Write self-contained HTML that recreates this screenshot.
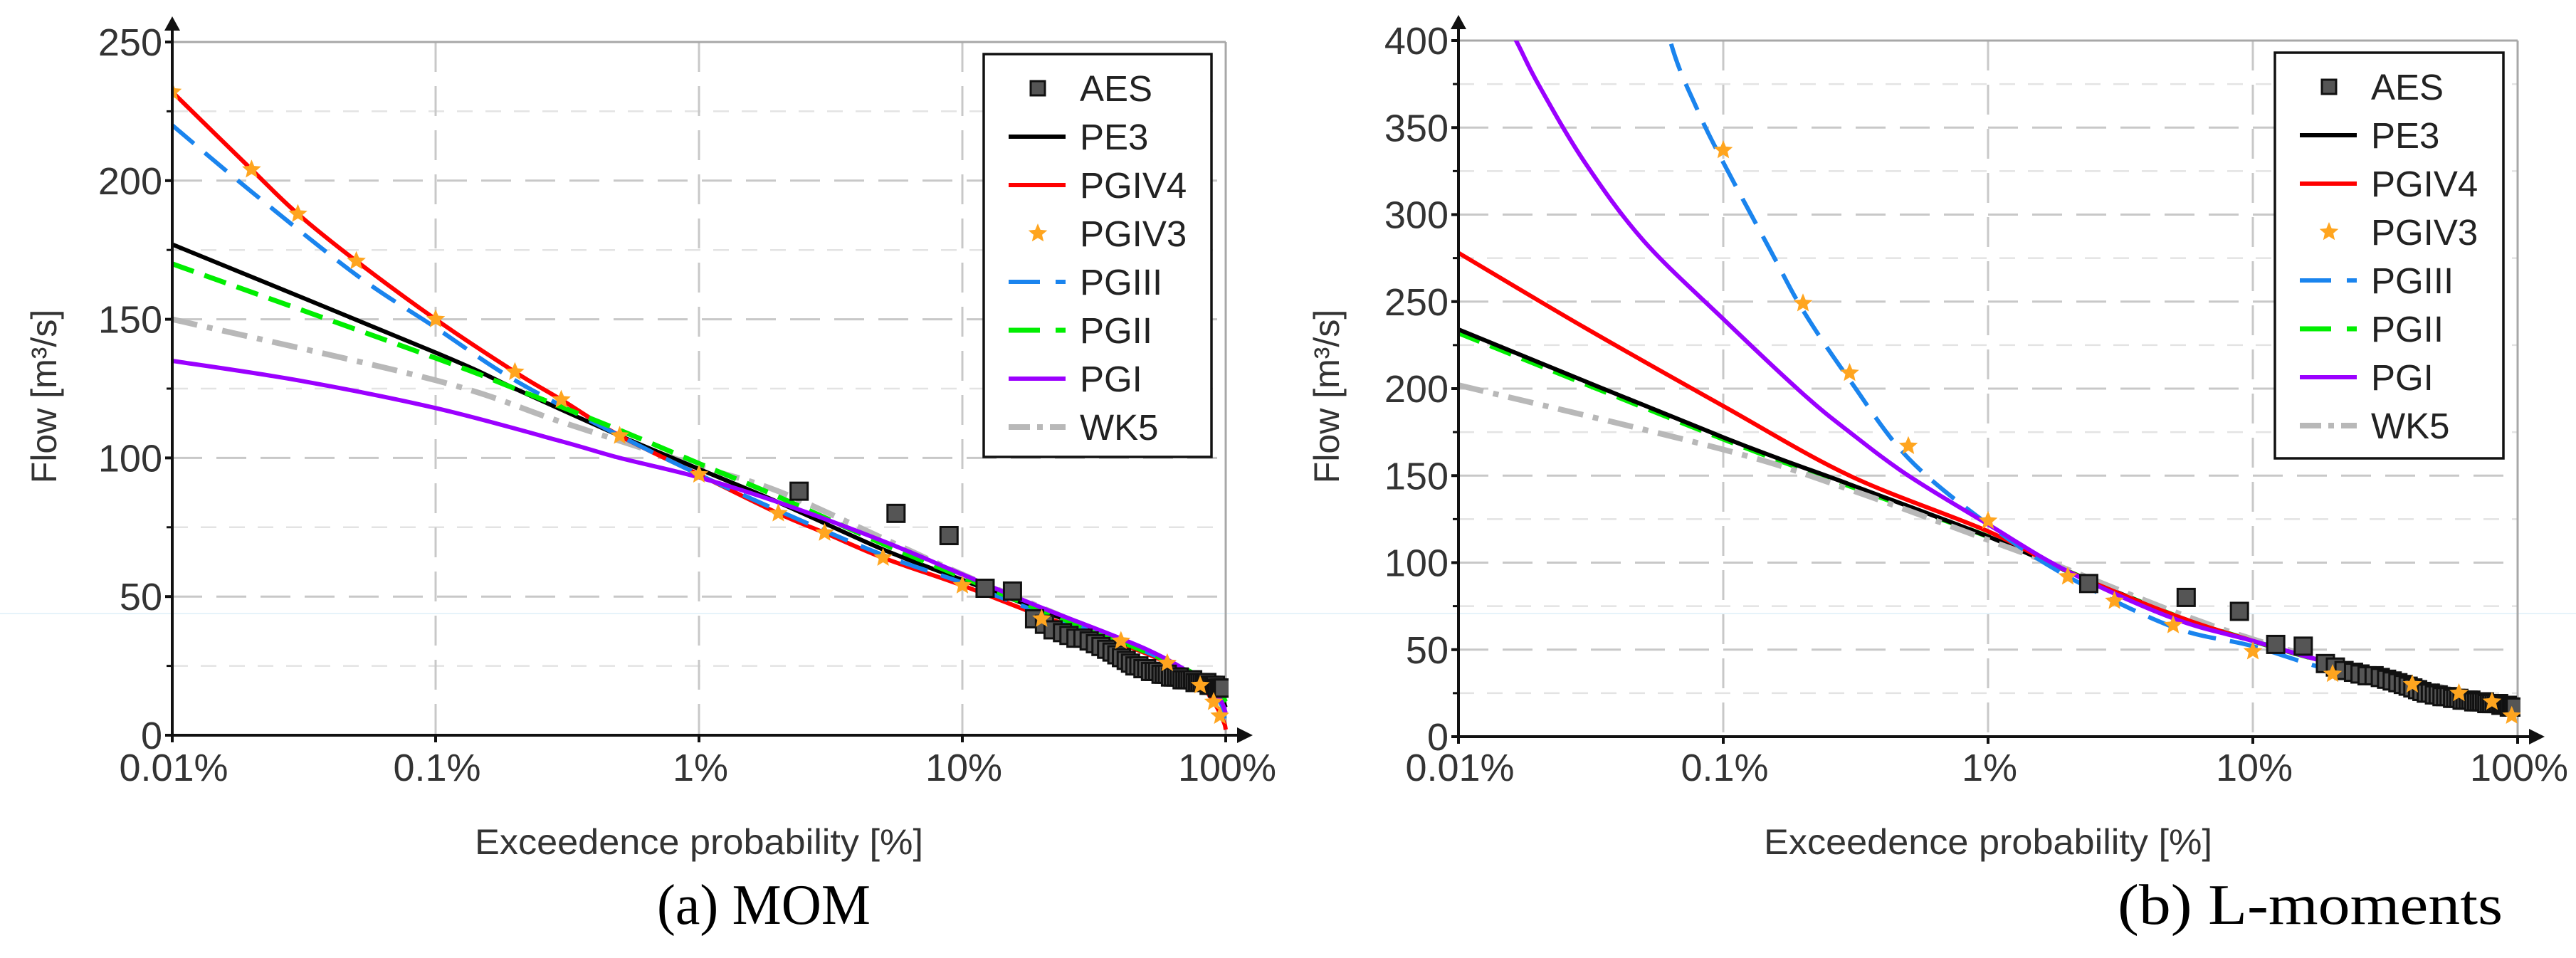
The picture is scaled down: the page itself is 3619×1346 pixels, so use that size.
<!DOCTYPE html>
<html><head><meta charset="utf-8"><title>Flood frequency curves</title>
<style>html,body{margin:0;padding:0;background:#fff;}svg{display:block;}</style></head>
<body>
<svg id="fig" xmlns="http://www.w3.org/2000/svg" width="3619" height="1346" viewBox="0 0 3619 1346" font-family="Liberation Sans, sans-serif"></svg>
<script>
// ---------- shared data ----------
const aesP = [2.4,5.6,8.9,12.2,15.5,18.8,20.5,22.1,24,25.4,27,28.7,30.3,32,33.6,35.3,37,38.6,40.2,41.9,43.5,45.2,46.8,48.5,50.1,51.8,53.5,55.1,56.8,58.4,60,61.7,63.3,65,66.6,68.3,70,71.6,73.2,74.9,76.5,78.2,79.8,81.5,83.2,84.8,86.5,88.1,89.8,91.4,93,94.7,96.3,98];
const aesQ = [88,80,72,53,52,42,40,38,37,36,35,35,34,33,32,31,30,29,28,27,26,25,25,24,24,23,23,23,22,22,22,21,21,21,21,20,20,20,20,20,19,19,19,19,19,19,18,18,18,18,17,17,17,17];
const xTickVals = [0.01,0.1,1,10,100];
const xTickLabels = ["0.01%","0.1%","1%","10%","100%"];
const momYTicks = [0,50,100,150,200,250];
const lmYTicks = [0,50,100,150,200,250,300,350,400];

// ---------- (a) MOM series ----------
const momPE3P = [0.01,0.1,0.2,0.5,1,2,5,10,20,50,80,95,100];
const momPE3Q = [177,138,125,108,96,84,67,56,45,30,20,14,10];
const momPGIV4P = [0.01,0.02,0.03,0.05,0.1,0.2,0.3,0.5,1,2,3,5,10,20,40,60,80,90,95,99,100];
const momPGIV4Q = [232,204,188,171,150,131,121,108,94,80,73,64,54,43,33,26,18,12,8,4,2];
const momPGIV3P = [0.01,0.02,0.03,0.05,0.1,0.2,0.3,0.5,1,2,3,5,10,20,40,60,80,90,95];
const momPGIV3Q = [232,204,188,171,150,131,121,108,94,80,73,64,54,42,34,26,18,12,7];
const momPGIIIP = [0.01,0.02,0.05,0.1,0.2,0.5,1,2,5,10,20,50,80,95,99,100];
const momPGIIIQ = [220,196,166,147,128,108,94,81,65,55,44,30,20,12,6,3];
const momPGIIP = [0.01,0.1,0.2,0.5,1,2,5,10,20,50,80,95,100];
const momPGIIQ = [170,136,125,110,98,86,69,57,45,30,21,15,12];
const momPGIP = [0.01,0.03,0.1,0.3,0.5,1,2,5,10,20,50,80,95,100];
const momPGIQ = [135,128,118,106,100,93,84,70,58,46,31,20,13,8];
const momWK5P = [0.01,0.1,0.3,1,2,5,10,20,50,80,95,100];
const momWK5Q = [150,128,113,97,88,71,58,46,30,20,15,13];

// ---------- (b) L-moments series ----------
const lmPE3P = [0.01,0.1,0.3,1,2,5,10,20,50,80,100];
const lmPE3Q = [234,172,145,115,95,70,55,42,28,20,15];
const lmPGIV4P = [0.01,0.03,0.1,0.3,1,2,5,10,20,50,90,100];
const lmPGIV4Q = [278,235,190,150,118,95,70,55,42,28,18,14];
const lmPGIV3P = [0.1,0.2,0.3,0.5,1,2,3,5,10,20,40,60,80,95];
const lmPGIV3Q = [337,249,209,167,124,92,78,64,49,36,30,25,20,12];
const lmPGIIIP = [0.05,0.063,0.08,0.1,0.15,0.2,0.3,0.5,1,2,5,10,20,50,90,100];
const lmPGIIIQ = [470,400,360,330,280,245,205,160,122,92,63,52,38,26,16,12];
const lmPGIIP = [0.01,0.1,0.3,1,2,5,10,20,50,80,100];
const lmPGIIQ = [232,171,144,115,95,70,55,42,28,20,15];
const lmPGIP = [0.012,0.0165,0.02,0.03,0.05,0.1,0.2,0.3,0.5,1,2,5,10,20,50,100];
const lmPGIQ = [440,400,375,330,285,240,197,175,150,122,95,68,55,42,28,14];
const lmWK5P = [0.01,0.1,0.3,1,2,5,10,20,50,100];
const lmWK5Q = [202,165,142,113,96,72,56,43,29,16];

const NS = "http://www.w3.org/2000/svg";
const svg = document.getElementById('fig');
function mk(tag, attrs, parent){
  const e = document.createElementNS(NS, tag);
  for (const k in attrs) e.setAttribute(k, attrs[k]);
  (parent||svg).appendChild(e);
  return e;
}
function starPts(cx, cy, R){
  const r = R*0.45; let s = "";
  for (let i=0;i<10;i++){
    const a = -Math.PI/2 + i*Math.PI/5, rr = i%2?r:R;
    s += (cx+rr*Math.cos(a)).toFixed(1)+","+(cy+rr*Math.sin(a)).toFixed(1)+" ";
  }
  return s;
}
// Catmull-Rom smoothed path through screen points
function smoothPath(pts){
  let d = 'M'+pts[0][0].toFixed(1)+','+pts[0][1].toFixed(1);
  for (let i=0;i<pts.length-1;i++){
    const p0 = pts[Math.max(0,i-1)], p1 = pts[i], p2 = pts[i+1], p3 = pts[Math.min(pts.length-1,i+2)];
    const c1x = p1[0]+(p2[0]-p0[0])/6, c1y = p1[1]+(p2[1]-p0[1])/6;
    const c2x = p2[0]-(p3[0]-p1[0])/6, c2y = p2[1]-(p3[1]-p1[1])/6;
    d += ' C'+c1x.toFixed(1)+','+c1y.toFixed(1)+' '+c2x.toFixed(1)+','+c2y.toFixed(1)+' '+p2[0].toFixed(1)+','+p2[1].toFixed(1);
  }
  return d;
}

const art = mk('line',{x1:0,y1:862,x2:3619,y2:862,stroke:'#e6f3fa','stroke-width':2});



function drawChart(cfg){
  const g = mk('g',{});
  
  
  const x0=cfg.x0, dec=cfg.dec, y0=cfg.y0, yTop=cfg.yTop, yMax=cfg.yMax;
  const x1 = x0+4*dec;
  const xs = p => x0 + (Math.log10(p)+2)*dec;
  const ys = q => y0 - (q/yMax)*(y0-yTop);
  const step = cfg.yTicks[1]-cfg.yTicks[0];

  const grid = mk('g',{},g);
  
  
  cfg.yTicks.forEach((v,i)=>{
    if (i>0){
      const mv = v-step/2;
      const l = mk('line',{x1:x0,x2:x1,y1:ys(mv),y2:ys(mv),stroke:'#e3e3e3','stroke-width':2.5,'stroke-dasharray':'22,18'},grid);
      
      
    }
    if (i>0 && i<cfg.yTicks.length-1){
      const l = mk('line',{x1:x0,x2:x1,y1:ys(v),y2:ys(v),stroke:'#c8c8c8','stroke-width':3,'stroke-dasharray':'42,20'},grid);
      
      
    }
  });
  xTickVals.slice(1,4).forEach(p=>{
    const l = mk('line',{x1:xs(p),x2:xs(p),y1:yTop,y2:y0,stroke:'#c8c8c8','stroke-width':3,'stroke-dasharray':'42,20'},grid);
    
    
  });
  const tb = mk('line',{x1:x0,x2:x1,y1:yTop,y2:yTop,stroke:'#a8a8a8','stroke-width':3},g);
  
  
  const rb = mk('line',{x1:x1,x2:x1,y1:yTop,y2:y0,stroke:'#a8a8a8','stroke-width':3},g);
  
  

  const cid = cfg.name+'-clip';
  const defs = mk('defs',{},g);
  const cp = mk('clipPath',{id:cid},defs);
  mk('rect',{x:x0,y:yTop,width:x1-x0+4,height:y0-yTop},cp);
  const plot = mk('g',{'clip-path':'url(#'+cid+')'},g);
  
  

  cfg.lines.forEach(s=>{
    const pts = s.p.map((p,i)=>[xs(p), ys(s.q[i])]);
    const path = mk('path',{d:smoothPath(pts),fill:'none',stroke:s.color,'stroke-width':s.w,'stroke-dasharray':s.dash||'none','stroke-linejoin':'round'},plot);
    
    
  });
  aesP.forEach((p,i)=>{
    const r = mk('rect',{x:xs(p)-12,y:ys(aesQ[i])-12,width:24,height:24,fill:'#555',stroke:'#111','stroke-width':3},plot);
    
    
  });
  cfg.starsP.forEach((p,i)=>{
    const s = mk('polygon',{points:starPts(xs(p),ys(cfg.starsQ[i]),14),fill:'#ffa51f'},plot);
    
    
  });

  const ax = mk('g',{},g);
  
  
  mk('line',{x1:x0,x2:x0,y1:y0+10,y2:yTop-22,stroke:'#111','stroke-width':4},ax);
  mk('polygon',{points:`${x0-11},${yTop-16} ${x0+11},${yTop-16} ${x0},${yTop-36}`,fill:'#111'},ax);
  mk('line',{x1:x0-10,x2:x1+22,y1:y0,y2:y0,stroke:'#111','stroke-width':4},ax);
  mk('polygon',{points:`${x1+16},${y0-11} ${x1+16},${y0+11} ${x1+38},${y0}`,fill:'#111'},ax);
  cfg.yTicks.forEach((v,i)=>{
    mk('line',{x1:x0-10,x2:x0,y1:ys(v),y2:ys(v),stroke:'#111','stroke-width':4},ax);
    if (i>0){ mk('line',{x1:x0-8,x2:x0,y1:ys(v-step/2),y2:ys(v-step/2),stroke:'#111','stroke-width':3},ax); }
    const t = mk('text',{x:x0-14,y:ys(v)+19,'text-anchor':'end','font-size':54,fill:'#333'},ax);
    t.textContent = v;
    
    
  });
  xTickVals.forEach((p,i)=>{
    mk('line',{x1:xs(p),x2:xs(p),y1:y0,y2:y0+10,stroke:'#111','stroke-width':4},ax);
    const t = mk('text',{x:xs(p)+2,y:1097,'text-anchor':'middle','font-size':54,fill:'#333'},ax);
    t.textContent = xTickLabels[i];
    
    
  });
  const xt = mk('text',{x:(x0+x1)/2,y:1200,'text-anchor':'middle','font-size':50,fill:'#333',textLength:630,lengthAdjust:'spacingAndGlyphs'},g);
  xt.textContent = 'Exceedence probability [%]';
  
  
  const yt = mk('text',{x:0,y:0,'text-anchor':'middle','font-size':50,fill:'#333','dominant-baseline':'central',transform:`translate(${cfg.ytx},557) rotate(-90)`},g);
  yt.textContent = 'Flow [m³/s]';
  
  

  const lg = mk('g',{},g);
  
  
  const L = cfg.legend;
  mk('rect',{x:L.x,y:L.y,width:L.w,height:L.h,fill:'#fff',stroke:'#111','stroke-width':3.5},lg);
  const entries = ['AES','PE3','PGIV4','PGIV3','PGIII','PGII','PGI','WK5'];
  entries.forEach((name,i)=>{
    const cy = L.y+48+i*68;
    const eg = mk('g',{},lg);
    
    
    if (name==='AES'){
      mk('rect',{x:L.x+66,y:cy-10,width:20,height:20,fill:'#555',stroke:'#111','stroke-width':3},eg);
    } else if (name==='PGIV3'){
      mk('polygon',{points:starPts(L.x+76,cy,14),fill:'#ffa51f'},eg);
    } else {
      const s = cfg.lines.find(o=>o.label===name);
      mk('line',{x1:L.x+35,x2:L.x+115,y1:cy,y2:cy,stroke:s.color,'stroke-width':s.w,'stroke-dasharray':s.ldash||'none'},eg);
    }
    const t = mk('text',{x:L.x+135,y:cy+18,'font-size':51,fill:'#222'},eg);
    t.textContent = name;
  });

  const cap = mk('text',{x:cfg.cap.x,y:1298,'font-family':'Liberation Serif, serif','font-size':80,fill:'#000',textLength:cfg.cap.len,lengthAdjust:'spacingAndGlyphs'},g);
  cap.textContent = cfg.cap.text;
  
  
}

const styles = {
  PE3:{color:'#000',w:6},
  PGIV4:{color:'#ff0000',w:6},
  PGIII:{color:'#1a84ee',w:6,dash:'40,20',ldash:'44,22,18'},
  PGII:{color:'#00ee00',w:7,dash:'32,16',ldash:'44,22,18'},
  PGI:{color:'#9b00ff',w:6},
  WK5:{color:'#b8b8b8',w:8,dash:'36,14,8,14',ldash:'30,10,8,10,24'}
};
function ln(label,p,q){ return Object.assign({label:label,p:p,q:q},styles[label]); }

drawChart({name:'chart-mom',x0:242,dec:370,y0:1033,yTop:59,yMax:250,yTicks:momYTicks,ytx:62,
  lines:[ln('WK5',momWK5P,momWK5Q),ln('PE3',momPE3P,momPE3Q),ln('PGIV4',momPGIV4P,momPGIV4Q),ln('PGIII',momPGIIIP,momPGIIIQ),ln('PGII',momPGIIP,momPGIIQ),ln('PGI',momPGIP,momPGIQ)],
  starsP:momPGIV3P,starsQ:momPGIV3Q,
  legend:{x:1382,y:76,w:320,h:566},
  cap:{x:923,len:300,text:'(a) MOM'}});
drawChart({name:'chart-lmoments',x0:2049,dec:372,y0:1035,yTop:57,yMax:400,yTicks:lmYTicks,ytx:1864,
  lines:[ln('PGII',lmPGIIP,lmPGIIQ),ln('PE3',lmPE3P,lmPE3Q),ln('WK5',lmWK5P,lmWK5Q),ln('PGIV4',lmPGIV4P,lmPGIV4Q),ln('PGIII',lmPGIIIP,lmPGIIIQ),ln('PGI',lmPGIP,lmPGIQ)],
  starsP:lmPGIV3P,starsQ:lmPGIV3Q,
  legend:{x:3196,y:74,w:321,h:570},
  cap:{x:2975,len:541,text:'(b) L-moments'}});
</script>
</body></html>
